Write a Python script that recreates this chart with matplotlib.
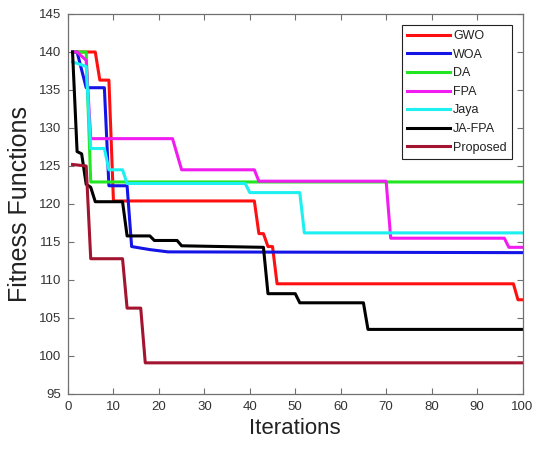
import matplotlib
matplotlib.use("Agg")
import matplotlib.pyplot as plt

plt.rcParams['font.family'] = ['Liberation Sans', 'DejaVu Sans']

# Convergence curves: (iteration, best fitness) breakpoints per algorithm
gwo_x = [1, 6, 7, 9, 10, 41, 42, 43, 44, 45, 46, 98, 99, 100]
gwo_y = [140, 140, 136.3, 136.3, 120.4, 120.4, 116.1, 116.1, 114.4, 114.4, 109.5, 109.5, 107.4, 107.4]

woa_x = [1, 2, 4, 8, 9, 13, 14, 18, 22, 100]
woa_y = [140, 140, 135.3, 135.3, 122.4, 122.4, 114.4, 114.0, 113.7, 113.6]

da_x = [1, 4, 5, 100]
da_y = [140, 140, 122.9, 122.9]

fpa_x = [1, 2, 4, 5, 23, 25, 41, 42, 70, 71, 96, 97, 100]
fpa_y = [140, 140, 138.9, 128.6, 128.6, 124.5, 124.5, 123.0, 123.0, 115.5, 115.5, 114.3, 114.3]

jaya_x = [1, 4, 5, 8, 9, 12, 13, 39, 40, 51, 52, 100]
jaya_y = [138.7, 138.1, 127.3, 127.3, 124.5, 124.5, 122.7, 122.7, 121.5, 121.5, 116.2, 116.2]

jafpa_x = [1, 2, 3, 4, 5, 6, 12, 13, 18, 19, 24, 25, 43, 44, 50, 51, 65, 66, 100]
jafpa_y = [140, 126.9, 126.6, 122.6, 122.2, 120.3, 120.3, 115.8, 115.8, 115.2, 115.2, 114.5,
           114.3, 108.2, 108.2, 107.0, 107.0, 103.5, 103.5]

prop_x = [1, 4, 5, 12, 13, 16, 17, 100]
prop_y = [125.2, 125.0, 112.8, 112.8, 106.3, 106.3, 99.1, 99.1]

labels = ['GWO', 'WOA', 'DA', 'FPA', 'Jaya', 'JA-FPA', 'Proposed']
colors = ['#ff1010', '#1414e6', '#22e622', '#f01cf0', '#1cf0f0', '#000000', '#a2142f']

xticks = list(range(0, 101, 10))
yticks = list(range(95, 146, 5))

series = [(gwo_x, gwo_y), (woa_x, woa_y), (da_x, da_y), (fpa_x, fpa_y),
          (jaya_x, jaya_y), (jafpa_x, jafpa_y), (prop_x, prop_y)]

fig = plt.figure(figsize=(5.39, 4.5), dpi=100)
ax = fig.add_axes([68 / 539, 1 - 394 / 450, (522.5 - 68) / 539, (394 - 14) / 450])

for (xs, ys), lab, col in zip(series, labels, colors):
    ax.plot(xs, ys, color=col, linewidth=2.2, label=lab)

ax.set_xlim(0, 100)
ax.set_ylim(95, 145)
ax.set_xticks(xticks)
ax.set_yticks(yticks)

spine_col = '#707070'
for s in ax.spines.values():
    s.set_color(spine_col)
    s.set_linewidth(0.9)
ax.tick_params(direction='in', length=4, width=0.8, color=spine_col,
               top=True, right=True, labelsize=9.5, labelcolor='#333333', pad=5)

ax.set_xlabel('Iterations', fontsize=16, color='#222222', labelpad=4)
ax.set_ylabel('Fitness Functions', fontsize=18, color='#222222', labelpad=5)

leg = ax.legend(loc='upper right', bbox_to_anchor=(511.7 / 539, 1 - 25 / 450),
                bbox_transform=fig.transFigure, borderaxespad=0, fontsize=9,
                fancybox=False, framealpha=1, edgecolor='#222222',
                handlelength=3.4, handletextpad=0.25, labelspacing=0.53,
                borderpad=0.4)
leg.get_frame().set_linewidth(0.8)
for t in leg.get_texts():
    t.set_color('#222222')

fig.savefig('out.png', dpi=100)
